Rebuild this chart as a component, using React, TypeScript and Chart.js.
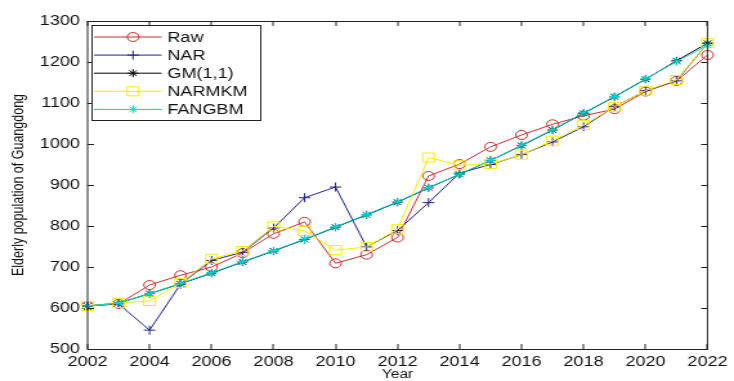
import React, { useEffect, useRef } from 'react';
import { Chart, registerables } from 'chart.js';
import { drawPoint } from 'chart.js/helpers';

Chart.register(...registerables);

const years = [2002, 2003, 2004, 2005, 2006, 2007, 2008, 2009, 2010, 2011, 2012, 2013, 2014, 2015, 2016, 2017, 2018, 2019, 2020, 2021, 2022];
const rawValues = [605, 610, 656, 680, 700, 734, 781, 810, 709, 730, 772, 922, 951, 993, 1022, 1048, 1069, 1085, 1128, 1154, 1217];
const narValues = [605, 610, 546, 658, 716, 736, 795, 869, 895, 749, 789, 857, 929, 950, 974, 1005, 1042, 1091, 1130, 1154, 1246];
const gmValues = [605, 612, 635, 659, 685, 712, 739, 767, 797, 827, 858, 893, 926, 960, 996, 1034, 1075, 1115, 1158, 1203, 1246];
const narmkmValues = [605, 612, 617, 661, 720, 739, 799, 788, 741, 749, 792, 967, 948, 951, 974, 1008, 1046, 1091, 1130, 1156, 1246];
const fangbmValues = [605, 612, 635, 660, 686, 713, 740, 768, 798, 828, 859, 894, 926, 960, 997, 1035, 1076, 1116, 1159, 1201, 1241];
const seriesNames = ['Raw', 'NAR', 'GM(1,1)', 'NARMKM', 'FANGBM'];
const xTicks = [2002, 2004, 2006, 2008, 2010, 2012, 2014, 2016, 2018, 2020, 2022];
const yTicks = [500, 600, 700, 800, 900, 1000, 1100, 1200, 1300];

const W = 570;
const H = 381;
const FONT = "'Liberation Sans', Arial, Helvetica, sans-serif";

const colors = ['rgb(205,45,45)', 'rgb(35,35,140)', 'rgb(0,0,0)', 'rgb(250,235,0)', 'rgb(0,215,215)'];
const styles = ['circle', 'cross', 'star', 'rect', 'star'];
const radii = [4.5, 4.5, 4, 6.4, 4];

const framePlugin = {
  id: 'framePlugin',
  afterDraw(chart: any) {
    const { ctx, chartArea } = chart;
    const { left, right, top, bottom } = chartArea;
    const xs = chart.scales.x;
    const ys = chart.scales.y;
    ctx.save();
    ctx.strokeStyle = '#222';
    ctx.lineWidth = 1;
    ctx.strokeRect(left, top + 0.5, right - left, bottom - top);
    const tl = 5;
    ctx.beginPath();
    xTicks.forEach((v) => {
      const px = Math.round(xs.getPixelForValue(v));
      ctx.moveTo(px, bottom);
      ctx.lineTo(px, bottom - tl);
      ctx.moveTo(px, top);
      ctx.lineTo(px, top + tl);
    });
    yTicks.forEach((v) => {
      const py = Math.round(ys.getPixelForValue(v)) + 0.5;
      ctx.moveTo(left, py);
      ctx.lineTo(left + tl, py);
      ctx.moveTo(right, py);
      ctx.lineTo(right - tl, py);
    });
    ctx.stroke();

    // legend box
    const bx = 71.5, by = 25.5, bw = 131, bh = 95;
    ctx.fillStyle = '#fff';
    ctx.fillRect(bx, by, bw, bh);
    ctx.strokeStyle = '#222';
    ctx.strokeRect(bx, by, bw, bh);
    ctx.font = `14px ${FONT}`;
    ctx.textBaseline = 'middle';
    ctx.textAlign = 'left';
    seriesNames.forEach((name, i) => {
      const y = 37 + i * 18.1;
      ctx.strokeStyle = colors[i];
      ctx.lineWidth = 1;
      ctx.beginPath();
      ctx.moveTo(73, y);
      ctx.lineTo(125.5, y);
      ctx.stroke();
      ctx.fillStyle = 'rgba(0,0,0,0)';
      drawPoint(ctx, { pointStyle: styles[i], radius: radii[i], rotation: 0, borderWidth: 1 }, 103.3, y);
      ctx.fillStyle = '#111';
      ctx.fillText(name, 130, y + 1);
    });
    ctx.restore();
  },
};

function makeSet(label: string, values: number[], i: number) {
  return {
    label,
    data: years.map((yr, k) => ({ x: yr, y: values[k] })),
    borderColor: colors[i],
    backgroundColor: 'rgba(0,0,0,0)',
    borderWidth: 1,
    pointStyle: styles[i],
    pointRadius: radii[i],
    pointBorderColor: colors[i],
    pointBackgroundColor: 'rgba(0,0,0,0)',
    pointBorderWidth: 1,
    tension: 0,
    clip: false,
    order: 5 - i,
  };
}

export default function App() {
  const ref = useRef<HTMLCanvasElement | null>(null);
  useEffect(() => {
    if (!ref.current) return;
    const chart = new Chart(ref.current, {
      type: 'line',
      data: {
        datasets: [
          makeSet(seriesNames[0], rawValues, 0),
          makeSet(seriesNames[1], narValues, 1),
          makeSet(seriesNames[2], gmValues, 2),
          makeSet(seriesNames[3], narmkmValues, 3),
          makeSet(seriesNames[4], fangbmValues, 4),
        ],
      },
      options: {
        responsive: false,
        animation: false,
        devicePixelRatio: 1,
        layout: { padding: { left: 0, right: 14, top: 21, bottom: 0 } },
        plugins: { legend: { display: false }, tooltip: { enabled: false } },
        scales: {
          x: {
            type: 'linear',
            min: 2002,
            max: 2022,
            afterBuildTicks: (s: any) => { s.ticks = xTicks.map((v) => ({ value: v })); },
            ticks: { font: { family: FONT, size: 14 }, color: '#111', padding: 5, maxRotation: 0, autoSkip: false, callback: (v: any) => String(v) },
            grid: { display: false, drawTicks: false },
            border: { display: false },
            title: { display: true, text: 'Year', font: { family: FONT, size: 12, lineHeight: 1 }, color: '#111', padding: { top: 0, bottom: 0 } },
            afterFit: (s: any) => { s.height = H - 349; },
          },
          y: {
            type: 'linear',
            min: 500,
            max: 1300,
            afterBuildTicks: (s: any) => { s.ticks = yTicks.map((v) => ({ value: v })); },
            ticks: { font: { family: FONT, size: 14 }, color: '#111', padding: 6, autoSkip: false, callback: (v: any) => String(v) },
            grid: { display: false, drawTicks: false },
            border: { display: false },
            title: { display: true, text: 'Elderly population of Guangdong', font: { family: FONT, size: 12.5, lineHeight: 1 }, color: '#111', padding: { top: 8.5, bottom: 0 } },
            afterFit: (s: any) => { s.width = 68; },
          },
        },
      },
      plugins: [framePlugin],
    } as any);
    return () => chart.destroy();
  }, []);
  return (
    <div style={{ position: 'absolute', left: 0, top: 0, width: 734, height: 381, background: '#fff' }}>
      <canvas ref={ref} width={W} height={H} style={{ width: '734px', height: '381px', display: 'block' }} />
    </div>
  );
}
